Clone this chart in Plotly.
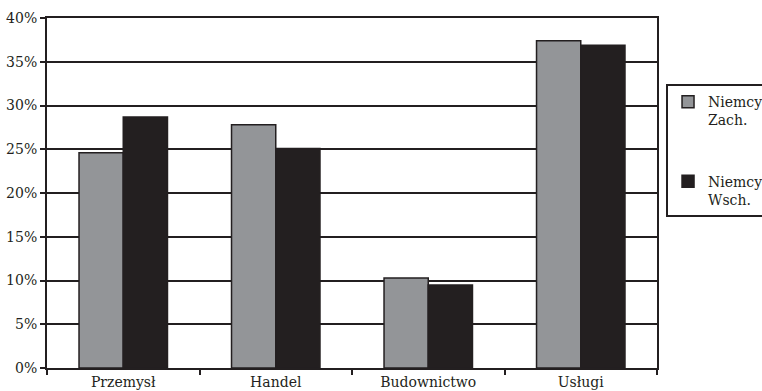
import plotly.graph_objects as go

categories = ["Przemysł", "Handel", "Budownictwo", "Usługi"]
west = [24.6, 27.8, 10.3, 37.4]
east = [28.7, 25.1, 9.5, 36.9]
series_names = ["Niemcy<br>Zach.", "Niemcy<br>Wsch."]
y_ticks = [0, 5, 10, 15, 20, 25, 30, 35, 40]

FONT = "DejaVu Serif"
INK = "#231f20"

fig = go.Figure()
fig.add_trace(go.Bar(
    x=categories, y=west, name=series_names[0], legendgroup="w",
    marker=dict(color="#939598", line=dict(color=INK, width=1.5)),
))
fig.add_trace(go.Bar(
    x=categories, y=east, name=series_names[1], legendgroup="e",
    marker=dict(color=INK, line=dict(color=INK, width=1.5)),
))

fig.update_layout(
    width=762, height=391,
    margin=dict(l=47, r=105, t=18, b=23, autoexpand=False),
    paper_bgcolor="white", plot_bgcolor="white",
    barmode="group", bargap=0.42, bargroupgap=0,
    font=dict(family=FONT, size=14, color=INK),
    showlegend=True,
    legend=dict(
        x=1.0148, y=0.811, xanchor="left", yanchor="top",
        bordercolor=INK, borderwidth=2, bgcolor="white",
        traceorder="grouped", tracegroupgap=40, valign="top",
        font=dict(family=FONT, size=14, color=INK),
        itemwidth=30,
    ),
)
fig.update_xaxes(
    automargin=False,
    showline=True, linecolor=INK, linewidth=2, mirror=True,
    ticks="outside", tickson="boundaries", ticklen=5, tickcolor=INK, tickwidth=1.5,
    showgrid=False,
)
fig.update_yaxes(
    automargin=False,
    range=[0, 40], tickvals=y_ticks, ticktext=[f"{v}%" for v in y_ticks],
    showline=True, linecolor=INK, linewidth=2, mirror=True,
    ticks="outside", ticklen=5, tickcolor=INK, tickwidth=1.5,
    showgrid=True, gridcolor=INK, gridwidth=1.5, zeroline=False,
)

fig.write_html("out.html")
